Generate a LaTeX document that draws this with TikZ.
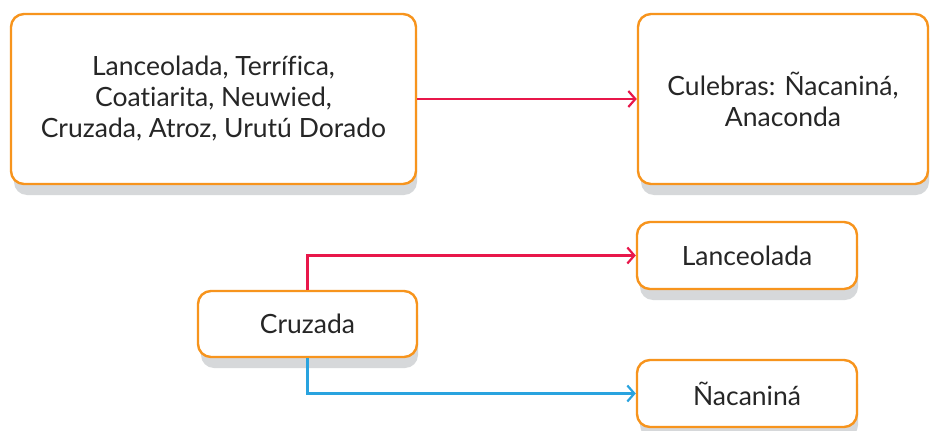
\documentclass[tikz,border=0pt]{standalone}
\usepackage{fontspec}
\setmainfont{Lato}[RawFeature={-liga}]
\usetikzlibrary{arrows.meta}
\definecolor{boxorange}{HTML}{F7941D}
\definecolor{linkred}{HTML}{E8174A}
\definecolor{linkblue}{HTML}{29A3DF}
\definecolor{shadowgray}{HTML}{D6D8DA}
\tikzset{
  card/.style={draw=boxorange, line width=2.4pt, fill=white, rounded corners=13pt,
    align=center, inner sep=0pt, text=black!85,
    font=\fontsize{26.5}{31}\selectfont},
  link/.style={line width=2.2pt, -{Straight Barb[length=7pt,width=16pt,line width=2.2pt]}},
}
\newcommand{\shadowbox}[4]{% cx cy w h
  \fill[shadowgray, rounded corners=13pt] (#1-#3/2+3,#2-#4/2+11) rectangle (#1+#3/2+1,#2+#4/2+11);
}
\begin{document}
\begin{tikzpicture}[x=1pt,y=-1pt]
\useasboundingbox[fill=white] (0,0) rectangle (930,431);
\shadowbox{213.5}{99}{405}{170}
\shadowbox{783}{99}{290}{170}
\shadowbox{747}{255.5}{220}{67}
\shadowbox{747}{393.5}{220}{67}
\shadowbox{307.5}{324}{219}{66}
\node[card, minimum width=405pt, minimum height=170pt] (src) at (213.5,99)
  {Lanceolada, Terrífica,\\Coatiarita, Neuwied,\\Cruzada, Atroz, Urutú Dorado};
\node[card, minimum width=290pt, minimum height=170pt] (cul) at (783,99)
  {Culebras: Ñacaniná,\\Anaconda};
\node[card, minimum width=220pt, minimum height=67pt] (lan) at (747,255.5) {Lanceolada};
\node[card, minimum width=220pt, minimum height=67pt] (nac) at (747,393.5) {Ñacaniná};
\node[card, minimum width=219pt, minimum height=66pt] (cru) at (307.5,324) {Cruzada};
\draw[link, linkred] (src.east) -- (cul.west);
\draw[link, linkred] (cru.north) |- (lan.west);
\draw[link, linkblue] (cru.south) |- (nac.west);
\end{tikzpicture}
\end{document}
